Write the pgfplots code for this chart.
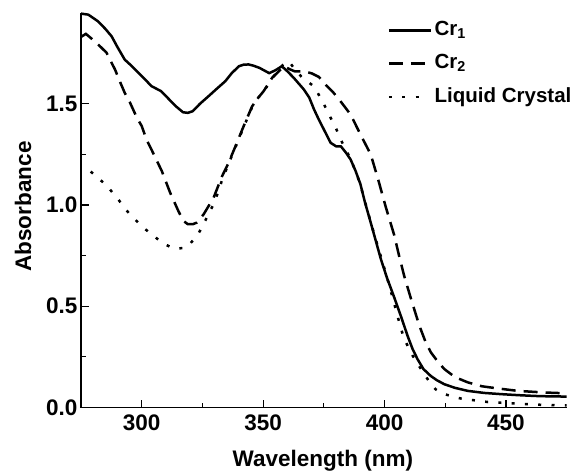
\documentclass[border=0pt]{standalone}
\usepackage{fontspec}
\setmainfont{Liberation Sans}
\usepackage{pgfplots}
\pgfplotsset{compat=1.18}

\newcommand{\tickbf}{\fontsize{22.5}{26}\selectfont\bfseries}
\newcommand{\labbf}{\fontsize{22.5}{26}\selectfont\bfseries}
\newcommand{\legbf}{\fontsize{20.5}{24}\selectfont\bfseries}
\pgfplotsset{shortleg/.style={legend image code/.code={\draw[##1] (0pt,0pt) -- (30pt,0pt);}}}

\begin{document}
\begin{tikzpicture}
\begin{axis}[at={(0,0)},anchor=south west,scale only axis,
 width=485.7pt,height=394.9pt,
 xmin=275,xmax=475,ymin=0,ymax=1.95,
 axis x line*=bottom,axis y line*=left,
 axis line style={line width=1.3pt,-},
 tick align=inside,
 xtick={300,350,400,450},ytick={0,0.5,1.0,1.5},
 minor x tick num=1,minor y tick num=1,
 major tick length=8pt,minor tick length=4.5pt,
 every tick/.style={line width=1.1pt,black},
 tick label style={font=\tickbf},
 /pgf/number format/assume math mode=true,
 yticklabel style={/pgf/number format/.cd,fixed,fixed zerofill,precision=1},
 xticklabel style={yshift=-4pt},
 xlabel={Wavelength (nm)},ylabel={Absorbance},
 label style={font=\labbf},
 xlabel style={at={(axis description cs:0.498,-0.1494)},anchor=base},
 ylabel style={at={(axis description cs:-0.1194,0.509)},anchor=center},
 legend cell align=left,
 legend image code/.code={\draw[#1] (0pt,0pt) -- (42pt,0pt);},
 legend style={at={(axis description cs:0.631,0.987)},anchor=north west,
  draw=none,fill=none,inner sep=0pt,row sep=8.3pt,font=\legbf,
  nodes={inner sep=2.5pt,text height=15pt,text depth=5pt}},
]
% Cr1
\addplot[black,line width=2.5pt,line join=round] coordinates {
(275,1.945)(278,1.94)(282,1.907)(285,1.87)(287.6,1.833)(290,1.78)(293,1.718)
(296,1.685)(298,1.66)(301,1.625)(304,1.587)(308,1.562)(311,1.525)(314,1.488)
(317,1.458)(319,1.455)(321,1.463)(324,1.50)(327.5,1.537)(331,1.575)(334.4,1.611)
(337,1.65)(340,1.685)(342,1.693)(344,1.694)(346,1.688)(348.5,1.677)(352.5,1.651)
(355,1.665)(357.7,1.685)(360,1.66)(362.6,1.628)(366.8,1.57)(369,1.53)(371,1.471)
(373,1.42)(375,1.373)(377.8,1.307)(380,1.29)(382,1.29)(384,1.26)(386,1.225)
(388,1.17)(390,1.105)(392,1.01)(394.3,0.913)(396,0.84)(398.5,0.732)(401,0.64)
(404,0.543)(406.7,0.452)(409.5,0.353)(411.5,0.29)(413.6,0.238)(416,0.19)
(419,0.156)(421.5,0.135)(424.6,0.115)(429,0.097)(434.3,0.082)(441,0.072)
(448,0.066)(455,0.061)(462,0.057)(468,0.055)(475,0.054)};
% Cr2
\addplot[black,line width=2.5pt,dash pattern=on 14pt off 8pt] coordinates {
(275,1.83)(277,1.845)(280,1.815)(282.8,1.784)(285.5,1.752)(289,1.669)(291,1.61)
(293,1.554)(295.2,1.505)(298,1.431)(300,1.39)(302,1.322)(304,1.274)(308.3,1.167)
(311.7,1.061)(315.1,0.97)(317.2,0.921)(319,0.905)(321,0.905)(322.7,0.913)
(325.5,0.954)(329.6,1.036)(333,1.14)(335.8,1.209)(338.6,1.29)(342,1.39)
(345.5,1.488)(348,1.53)(350.2,1.562)(353.7,1.628)(356,1.655)(358.5,1.685)
(361,1.67)(363,1.66)(366.8,1.66)(370,1.65)(373,1.632)(376,1.59)(379,1.554)
(382,1.51)(386,1.447)(390,1.35)(394.3,1.25)(397.5,1.12)(400.5,0.99)(404,0.85)
(406,0.748)(408.1,0.649)(410.8,0.54)(414.3,0.405)(417,0.32)(419.1,0.272)
(422,0.225)(424.6,0.19)(429,0.15)(434.3,0.124)(440,0.105)(446.7,0.094)
(455,0.082)(466,0.074)(475,0.07)};
% Liquid crystal
\addplot[black,line width=2.5pt,dash pattern=on 3pt off 10.3pt,shortleg] coordinates {
(279,1.165)(285.5,1.097)(290.3,1.028)(294.8,0.958)(300.7,0.888)(306.2,0.835)
(309,0.81)(312.4,0.789)(315,0.785)(317.9,0.789)(320,0.81)(323.1,0.852)
(326.2,0.924)(329.2,0.995)(331.4,1.061)(333,1.12)(335.8,1.205)(338.6,1.285)
(342,1.385)(345.5,1.485)(348,1.53)(350.2,1.56)(353.7,1.625)(356,1.66)(358,1.69)
(360.6,1.71)(362.6,1.677)(366,1.63)(370.9,1.586)(374.4,1.513)(377.1,1.447)
(379.9,1.381)(382.6,1.307)(385.4,1.241)(388.1,1.167)(390.2,1.093)(393,0.97)
(396,0.845)(399,0.725)(402,0.60)(404.5,0.49)(406.5,0.40)(408.1,0.338)
(411.6,0.255)(415,0.19)(419.1,0.115)(421,0.09)(424.6,0.066)(431.5,0.044)
(442.6,0.027)(454.9,0.019)(465,0.013)(475,0.01)};
\legend{Cr\textsubscript{1},Cr\textsubscript{2},Liquid Crystal}
\end{axis}
\path (-81pt,-63.5pt) rectangle (494pt,407.5pt);
\end{tikzpicture}
\end{document}
